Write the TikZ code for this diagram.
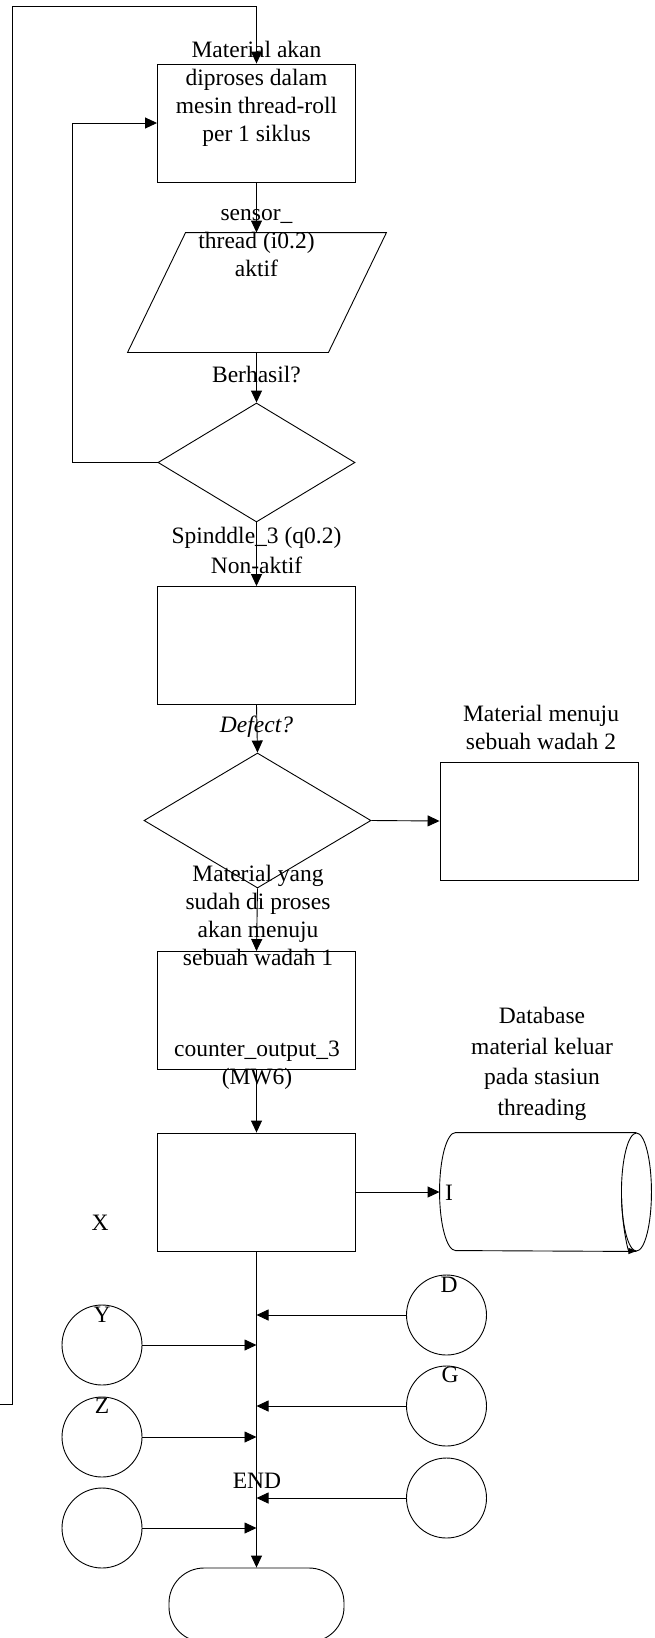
\documentclass[tikz,border=0pt]{standalone}
\usepackage{fontspec}
\setmainfont{Liberation Serif}
\usetikzlibrary{arrows.meta,shapes.geometric,positioning}

\begin{document}
\begin{tikzpicture}[x=1pt, y=-1pt, line width=0.9pt,
    >={Triangle[length=12pt,width=11pt]},
    box/.style={draw, rectangle, inner sep=0pt, minimum width=198pt, minimum height=118pt},
    decision/.style={draw, diamond, inner sep=0pt},
    io/.style={rectangle, inner sep=0pt, minimum width=258pt, minimum height=119pt},
    store/.style={rectangle, inner sep=0pt, minimum width=211pt, minimum height=118pt},
    conn/.style={draw, circle, inner sep=0pt, minimum size=80pt},
    term/.style={draw, rectangle, rounded corners=35pt, inner sep=0pt,
      minimum width=175pt, minimum height=74pt},
    txt/.style={align=center, inner sep=0pt, font=\fontsize{23.5}{28}\selectfont}]

  % Fix the page to the size of the reference
  \useasboundingbox (0,0) rectangle (654,1638);

  % Main column of the flow
  \node[box] (proses) at (256.5,123) {};
  \node[io] (sensor) at (257,292.5) {};
  \draw (sensor.south west) -- ([xshift=-58pt]sensor.south east)
    -- (sensor.north east) -- ([xshift=58pt]sensor.north west) -- cycle;
  \node[decision, minimum width=197pt, minimum height=119pt] (berhasil) at (256.5,462.5) {};
  \node[box] (spindle) at (256.5,645.5) {};
  \node[decision, minimum width=227pt, minimum height=135pt] (defect) at (257.5,820.5) {};
  \node[box] (wadah2) at (539,821) {};
  \node[box] (wadah1) at (256.5,1010.5) {};
  \node[box] (counter) at (256.5,1192) {};
  \node[term] (selesai) at (256.5,1605) {};

  % Database drawn as a lying cylinder
  \node[store] (database) at (545.5,1192) {};
  \draw ([xshift=-15pt]database.north east) -- ([xshift=16pt]database.north west)
    arc[start angle=90, end angle=270, x radius=16pt, y radius=59pt]
    -- ([xshift=-15pt]database.south east);
  \draw ([xshift=-15pt]database.east) ellipse[x radius=15pt, y radius=59pt];
  \draw[-{Triangle[length=8pt,width=6pt]}] ([xshift=-15pt]database.east) ++(-15pt,0)
    arc[start angle=180, end angle=270, x radius=15pt, y radius=59pt];

  % Off-page connectors
  \node[conn] (conD) at (446.5,1315) {};
  \node[conn] (conG) at (446.5,1406) {};
  \node[conn] (conR) at (446.5,1498) {};
  \node[conn] (conY) at (102,1345) {};
  \node[conn] (conZ) at (102,1437) {};
  \node[conn] (conL) at (102,1528) {};

  % Texts
  \node[txt] (tproses) at (256.5,94) {Material akan\\diproses dalam\\mesin thread-roll\\per 1 siklus};
  \node[txt] (tsensor) at (256.5,243) {sensor\_\\thread (i0.2)\\aktif};
  \node[txt] (tberhasil) at (256.5,375) {Berhasil?};
  \node[txt, font=\fontsize{23.5}{30}\selectfont] (tspindle) at (256.5,550) {Spinddle\_3 (q0.2)\\Non-aktif};
  \node[txt, font=\fontsize{23.5}{28}\selectfont\itshape] (tdefect) at (256.5,727) {Defect?};
  \node[txt] (twadah2) at (541,727) {Material menuju\\sebuah wadah 2};
  \node[txt] (twadah1) at (258,915) {Material yang\\sudah di proses\\akan menuju\\sebuah wadah 1};
  \node[txt] (tcounter) at (257,1065) {counter\_output\_3\\(MW6)};
  \node[txt, font=\fontsize{23.5}{30.5}\selectfont] (tdatabase) at (542,1064) {Database\\material keluar\\pada stasiun\\threading};
  \node[txt] (tI) at (449,1193) {I};
  \node[txt] (tX) at (100,1223) {X};
  \node[txt] (tD) at (449,1285) {D};
  \node[txt] (tG) at (450,1375) {G};
  \node[txt] (tY) at (102,1315) {Y};
  \node[txt] (tZ) at (102,1406) {Z};
  \node[txt] (tend) at (257,1481) {END};

  % Loop back from the left edge of the page
  \coordinate (masuk) at (0,1404);
  \draw[->] (masuk) -- ++(12,0) -- ++(0,-1398) -| (proses.north);

  % Flow down the main column
  \draw[->] (proses.south) -- (proses.south |- sensor.north);
  \draw[->] (berhasil.north |- sensor.south) -- (berhasil.north);
  \draw[->] (berhasil.west) -- ++(-85,0) |- (proses.west);
  \draw[->] (berhasil.south) -- (spindle.north);
  \draw[->] (spindle.south) -- (defect.north);
  \draw[->] (defect.east) -- (wadah2.west);
  \draw[->] (defect.south) -- (wadah1.north);
  \draw[->] (wadah1.south) -- (counter.north);
  \draw[->] (counter.east |- database.west) -- (database.west);
  \draw[->] (counter.south) -- (selesai.north);

  % Connectors joining the main line
  \coordinate (jD) at (counter.south |- conD);
  \coordinate (jG) at (counter.south |- conG);
  \coordinate (jR) at (counter.south |- conR);
  \coordinate (jY) at (counter.south |- conY);
  \coordinate (jZ) at (counter.south |- conZ);
  \coordinate (jL) at (counter.south |- conL);
  \draw[->] (conD.west) -- (jD);
  \draw[->] (conG.west) -- (jG);
  \draw[->] (conR.west) -- (jR);
  \draw[->] (conY.east) -- (jY);
  \draw[->] (conZ.east) -- (jZ);
  \draw[->] (conL.east) -- (jL);

\end{tikzpicture}
\end{document}
